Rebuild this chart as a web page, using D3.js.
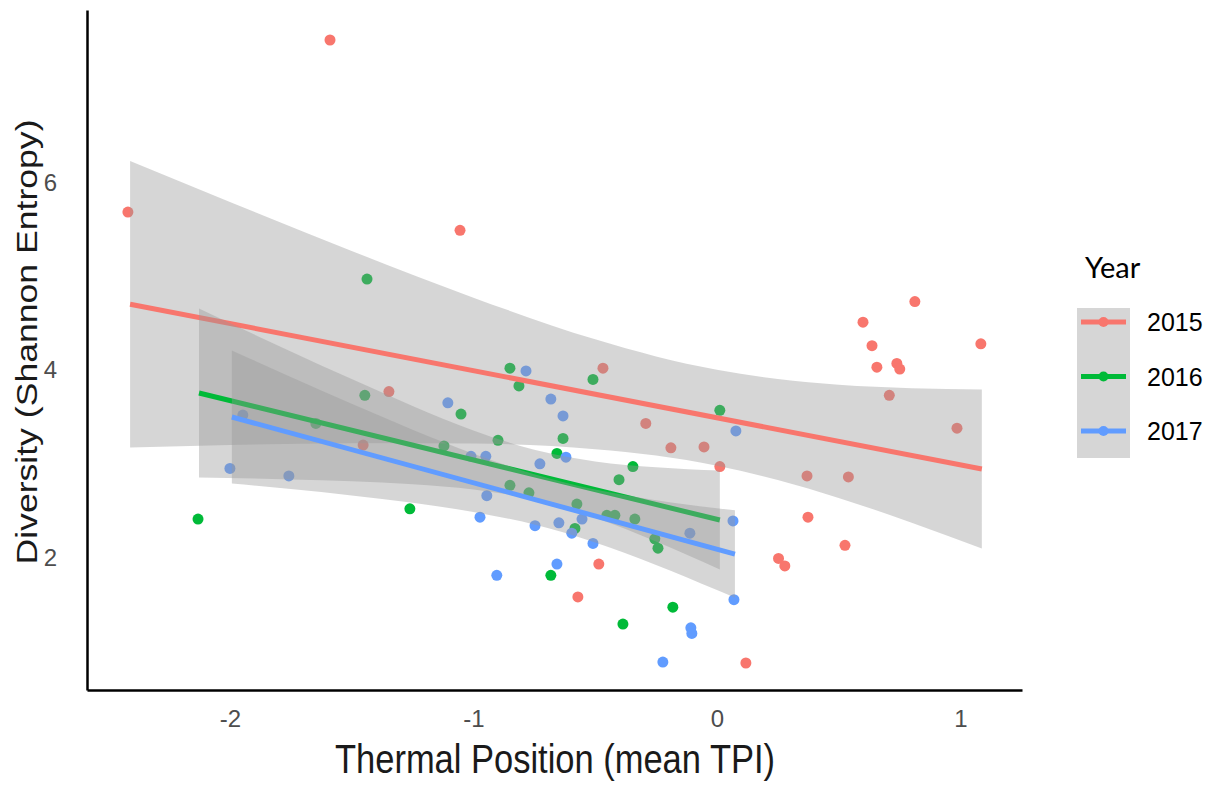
<!DOCTYPE html>
<html>
<head>
<meta charset="utf-8">
<script src="https://cdn.jsdelivr.net/npm/d3@7"></script>
<style>
  html, body { margin: 0; padding: 0; background: #ffffff; }
  #graphicContainer { width: 1220px; height: 785px; }
  text { font-family: "Liberation Sans", Arial, sans-serif; }
</style>
</head>
<body>
<div id="graphicContainer"></div>
<script>

const years = ["2015", "2016", "2017"]

const yearColors = ["#F8766D", "#00BA38", "#619CFF"]

const xTicks = [-2, -1, 0, 1]

const yTicks = [2, 4, 6]

// points
const x2015 = [-1.589, -2.419, -1.055, -1.347, -1.453, -0.468, -0.292, -0.189, -0.053, 0.012, -0.485, -0.571, 0.119, 0.253, 0.279, 0.374, 0.526, 0.370, 0.540, 0.708, 0.986, 0.813, 0.600, 0.637, 0.657, 0.739, 0.751, 1.084]
const y2015 = [7.52, 5.685, 5.49, 3.77, 3.20, 4.02, 3.43, 3.17, 3.18, 2.97, 1.93, 1.58, 0.875, 1.99, 1.91, 2.43, 2.13, 2.87, 2.86, 3.73, 3.38, 4.73, 4.51, 4.26, 4.03, 4.07, 4.01, 4.28]

const x2016 = [-1.437, -1.446, -1.647, -2.131, -0.850, -0.813, -0.509, -1.051, -0.899, -1.121, -0.632, -0.657, -0.345, -0.402, 0.012, -0.850, -0.772, -1.261, -0.575, -0.452, -0.419, -0.337, -0.583, -0.255, -0.242, -0.682, -0.181, -0.386]
const y2016 = [4.97, 3.73, 3.43, 2.41, 4.02, 3.83, 3.90, 3.53, 3.25, 3.19, 3.27, 3.11, 2.97, 2.83, 3.57, 2.77, 2.69, 2.52, 2.57, 2.45, 2.45, 2.41, 2.31, 2.20, 2.10, 1.81, 1.47, 1.29]

const x2017 = [-1.947, -2.000, -1.758, -0.784, -1.105, -0.682, -0.632, 0.078, -1.010, -0.949, -0.727, -0.620, -0.945, -0.973, -0.747, -0.649, -0.554, 0.066, -0.596, -0.509, -0.111, -0.904, -0.657, 0.070, -0.107, -0.103, -0.222]
const y2017 = [3.52, 2.95, 2.87, 3.99, 3.65, 3.69, 3.51, 3.35, 3.08, 3.08, 3.00, 3.07, 2.66, 2.43, 2.34, 2.37, 2.41, 2.39, 2.26, 2.15, 2.26, 1.81, 1.93, 1.55, 1.25, 1.19, 0.885]

// fitted lines (start, end)
const fit2015 = [[-2.41, 4.702], [1.088, 2.944]]
const fit2016 = [[-2.127, 3.755], [0.012, 2.40]]
const fit2017 = [[-1.992, 3.499], [0.074, 2.037]]

// confidence bands
const bandX2015 = [-2.41, -2, -1.5, -1, -0.5, -0.25, 0, 0.25, 0.5, 0.8, 1.088]
const bandLo2015 = [3.173, 3.199, 3.218, 3.215, 3.156, 3.087, 2.979, 2.827, 2.636, 2.372, 2.096]
const bandHi2015 = [6.230, 5.793, 5.270, 4.772, 4.327, 4.145, 4.003, 3.904, 3.843, 3.806, 3.792]

const bandX2016 = [-2.127, -1.75, -1.5, -1.25, -1, -0.75, -0.5, -0.25, 0.012]
const bandLo2016 = [2.853, 2.833, 2.813, 2.781, 2.726, 2.618, 2.423, 2.171, 1.873]
const bandHi2016 = [4.656, 4.198, 3.903, 3.617, 3.356, 3.149, 3.025, 2.962, 2.927]

const bandX2017 = [-1.992, -1.75, -1.5, -1.25, -1, -0.75, -0.5, -0.25, 0, 0.074]
const bandLo2017 = [2.789, 2.730, 2.662, 2.585, 2.486, 2.351, 2.161, 1.921, 1.653, 1.571]
const bandHi2017 = [4.208, 3.926, 3.639, 3.363, 3.107, 2.889, 2.726, 2.612, 2.526, 2.503]


const series = [
  { year: years[0], xs: x2015, ys: y2015, fit: fit2015, bx: bandX2015, lo: bandLo2015, hi: bandHi2015 },
  { year: years[1], xs: x2016, ys: y2016, fit: fit2016, bx: bandX2016, lo: bandLo2016, hi: bandHi2016 },
  { year: years[2], xs: x2017, ys: y2017, fit: fit2017, bx: bandX2017, lo: bandLo2017, hi: bandHi2017 }
]

const colors = d3.scaleOrdinal().domain(years).range(yearColors)

const width = 1220
const height = 785

const svg = d3.select("#graphicContainer").append("svg")
  .attr("width", width)
  .attr("height", height)

svg.append("rect")
  .attr("width", width)
  .attr("height", height)
  .attr("fill", "#ffffff")

const x = d3.scaleLinear()
  .domain([-2.587, 1.253])
  .range([87, 1022])

const y = d3.scaleLinear()
  .domain([0.587, 7.84])
  .range([690, 10])

// points first, smooths drawn over them
series.forEach((s) => {

  svg.append("g")
    .selectAll("circle")
    .data(s.xs.map((d, i) => [d, s.ys[i]]))
    .enter()
    .append("circle")
    .attr("cx", (d) => x(d[0]))
    .attr("cy", (d) => y(d[1]))
    .attr("r", 5.5)
    .attr("fill", colors(s.year))

})

const area = d3.area()
  .x((d) => x(d[0]))
  .y0((d) => y(d[1]))
  .y1((d) => y(d[2]))
  .curve(d3.curveMonotoneX)

const line = d3.line()
  .x((d) => x(d[0]))
  .y((d) => y(d[1]))

series.forEach((s) => {

  svg.append("path")
    .datum(s.bx.map((d, i) => [d, s.lo[i], s.hi[i]]))
    .attr("d", area)
    .attr("fill", "#999999")
    .attr("fill-opacity", 0.4)

  svg.append("path")
    .datum(s.fit)
    .attr("d", line)
    .attr("fill", "none")
    .attr("stroke", colors(s.year))
    .attr("stroke-width", 5)

})

// axes
const xAxis = svg.append("g")
  .attr("transform", `translate(0, ${y.range()[0]})`)
  .call(d3.axisBottom(x).tickValues(xTicks).tickFormat((d) => String(d)).tickSize(0).tickSizeOuter(0).tickPadding(20))

const yAxis = svg.append("g")
  .attr("transform", `translate(${x.range()[0]}, 0)`)
  .call(d3.axisLeft(y).tickValues(yTicks).tickFormat((d) => String(d)).tickSize(0).tickSizeOuter(0).tickPadding(30))

svg.selectAll(".domain")
  .attr("stroke", "#000000")
  .attr("stroke-width", 2.5)

svg.selectAll(".tick text")
  .attr("fill", "#4d4d4d")
  .style("font-size", "24px")
  .style("font-family", "'Liberation Sans', Arial, sans-serif")

svg.append("text")
  .attr("x", 555)
  .attr("y", 773)
  .attr("text-anchor", "middle")
  .attr("textLength", 440)
  .attr("lengthAdjust", "spacingAndGlyphs")
  .attr("fill", "#1a1a1a")
  .style("font-size", "40px")
  .text("Thermal Position (mean TPI)")

svg.append("text")
  .attr("transform", "translate(37, 342) rotate(-90)")
  .attr("text-anchor", "middle")
  .attr("textLength", 445)
  .attr("lengthAdjust", "spacingAndGlyphs")
  .attr("fill", "#1a1a1a")
  .style("font-size", "30px")
  .text("Diversity (Shannon Entropy)")

// legend
const legend = svg.append("g")

legend.append("text")
  .attr("x", 1085)
  .attr("y", 278)
  .attr("fill", "#000000")
  .style("font-family", "Lato, 'Open Sans', sans-serif")
  .style("font-size", "29px")
  .text("Year")

const keyY = d3.scalePoint()
  .domain(years)
  .range([322, 431])

legend.append("rect")
  .attr("x", 1077)
  .attr("y", 308)
  .attr("width", 53)
  .attr("height", 150)
  .attr("fill", "#999999")
  .attr("fill-opacity", 0.4)

years.forEach((yr) => {

  legend.append("line")
    .attr("x1", 1081)
    .attr("x2", 1126)
    .attr("y1", keyY(yr))
    .attr("y2", keyY(yr))
    .attr("stroke", colors(yr))
    .attr("stroke-width", 5)

  legend.append("circle")
    .attr("cx", 1103.5)
    .attr("cy", keyY(yr))
    .attr("r", 5)
    .attr("fill", colors(yr))

  legend.append("text")
    .attr("x", 1147)
    .attr("y", keyY(yr))
    .attr("dy", "0.36em")
    .attr("fill", "#000000")
    .style("font-size", "25px")
    .text(yr)

})

</script>
</body>
</html>
